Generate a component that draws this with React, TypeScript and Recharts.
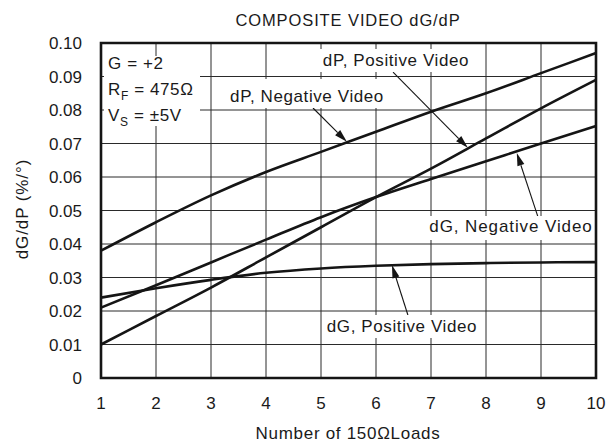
import React from 'react';
import { LineChart, Line, XAxis, YAxis, CartesianGrid, ReferenceArea, ReferenceLine } from 'recharts';

const font = '"Liberation Sans", Arial, sans-serif';
const ink = '#151515';

// Number of 150 ohm loads
const loads = [1, 2, 3, 4, 5, 6, 7, 8, 9, 10];
const yTicks = [0, 0.01, 0.02, 0.03, 0.04, 0.05, 0.06, 0.07, 0.08, 0.09, 0.1];

// dG/dP values (%/deg)
const dpNegative = [0.038, 0.0465, 0.0545, 0.0615, 0.0675, 0.0735, 0.0795, 0.085, 0.091, 0.097];
const dpPositive = [0.01, 0.0185, 0.027, 0.036, 0.045, 0.054, 0.0625, 0.0715, 0.0805, 0.089];
const dgNegative = [0.021, 0.0277, 0.0345, 0.0413, 0.048, 0.054, 0.0594, 0.0647, 0.07, 0.0752];
const dgPositive = [0.024, 0.0268, 0.0293, 0.0314, 0.0327, 0.0335, 0.034, 0.0343, 0.0345, 0.0346];

// arrow [start, tip] in data coords
const arrows = [
  [{ x: 4.855, y: 0.0806 }, { x: 5.47, y: 0.0705 }],
  [{ x: 6.31, y: 0.0913 }, { x: 7.67, y: 0.0687 }],
  [{ x: 8.945, y: 0.0481 }, { x: 8.56, y: 0.0672 }],
  [{ x: 6.58, y: 0.0188 }, { x: 6.29, y: 0.0337 }],
];

const data = loads.map((n, i) => ({
  n,
  dpNeg: dpNegative[i],
  dpPos: dpPositive[i],
  dgNeg: dgNegative[i],
  dgPos: dgPositive[i],
}));

const Arrow = (props: any) => {
  const { x1, y1, x2, y2 } = props;
  if ([x1, y1, x2, y2].some((v) => v == null || isNaN(v))) return null;
  const dx = x2 - x1;
  const dy = y2 - y1;
  const len = Math.sqrt(dx * dx + dy * dy) || 1;
  const ux = dx / len;
  const uy = dy / len;
  const hl = 13;
  const hw = 3.6;
  const bx = x2 - ux * hl;
  const by = y2 - uy * hl;
  const pts = `${x2},${y2} ${bx - uy * hw},${by + ux * hw} ${bx + uy * hw},${by - ux * hw}`;
  return (
    <g>
      <line x1={x1} y1={y1} x2={bx} y2={by} stroke={ink} strokeWidth={1.1} />
      <polygon points={pts} fill={ink} />
    </g>
  );
};

const textStyle = { fontFamily: font, fontSize: 17, fill: '#1a1a1a', letterSpacing: 0.6 };

const App = () => {
  return (
    <div style={{ position: 'relative', width: 600, height: 438, background: '#fff' }}>
      <LineChart
        width={600}
        height={431}
        data={data}
        margin={{ top: 35, right: 12, bottom: 31, left: 43 }}
      >
        <CartesianGrid stroke="#2a2a2a" strokeWidth={1} horizontalValues={yTicks} verticalValues={loads} />
        <XAxis
          dataKey="n"
          type="number"
          domain={[1, 10]}
          ticks={loads}
          axisLine={false}
          tickLine={false}
          tickMargin={13}
          height={30}
          tick={{ fill: '#1a1a1a', fontSize: 17, fontFamily: font }}
        />
        <YAxis
          type="number"
          domain={[0, 0.1]}
          ticks={yTicks}
          axisLine={false}
          tickLine={false}
          tickMargin={13}
          width={50}
          tickFormatter={(v: number) => (v === 0 ? '0' : v.toFixed(2))}
          tick={{ fill: '#1a1a1a', fontSize: 17, fontFamily: font }}
        />
        <ReferenceArea x1={1} x2={10} y1={0} y2={0.1} fill="none" stroke={ink} strokeWidth={2.6} fillOpacity={0} />
        <Line type="monotone" dataKey="dpNeg" stroke={ink} strokeWidth={2.6} dot={false} isAnimationActive={false} />
        <Line type="monotone" dataKey="dpPos" stroke={ink} strokeWidth={2.6} dot={false} isAnimationActive={false} />
        <Line type="monotone" dataKey="dgNeg" stroke={ink} strokeWidth={2.6} dot={false} isAnimationActive={false} />
        <Line type="monotone" dataKey="dgPos" stroke={ink} strokeWidth={2.6} dot={false} isAnimationActive={false} />
        {arrows.map((seg, i) => (
          <ReferenceLine key={i} segment={seg} shape={<Arrow />} ifOverflow="visible" />
        ))}
      </LineChart>
      <svg
        width={600}
        height={438}
        style={{ position: 'absolute', left: 0, top: 0, pointerEvents: 'none' }}
      >
        <text x={340} y={18} textAnchor="middle" style={{ ...textStyle, fontSize: 16.5, letterSpacing: 0.9 }}>
          COMPOSITE VIDEO dG/dP
        </text>
        <text x={340} y={431} textAnchor="middle" style={{ ...textStyle, letterSpacing: 0.7 }}>
          Number of 150ΩLoads
        </text>
        <text
          x={20}
          y={201}
          textAnchor="middle"
          transform="rotate(-90 20 201)"
          style={{ ...textStyle, letterSpacing: 0.9 }}
        >
          dG/dP (%/°)
        </text>

        <rect x={96} y={48} width={96} height={70} fill="#fff" />
        <text x={100} y={61} style={textStyle}>G = +2</text>
        <text x={100} y={87} style={textStyle}>
          R<tspan fontSize={12} dy={5}>F</tspan>
          <tspan dy={-5}> = 475Ω</tspan>
        </text>
        <text x={100} y={113} style={textStyle}>
          V<tspan fontSize={12} dy={5}>S</tspan>
          <tspan dy={-5}> = ±5V</tspan>
        </text>

        <rect x={212} y={71} width={172} height={29} fill="#fff" />
        <text x={299} y={94} textAnchor="middle" style={textStyle}>dP, Negative Video</text>

        <rect x={302} y={41} width={172} height={23} fill="#fff" />
        <text x={388} y={58} textAnchor="middle" style={textStyle}>dP, Positive Video</text>

        <rect x={420} y={208} width={164} height={24} fill="#fff" />
        <text x={503} y={224} textAnchor="middle" style={{ ...textStyle, letterSpacing: 0.9 }}>dG, Negative Video</text>

        <rect x={315} y={307} width={159} height={23} fill="#fff" />
        <text x={394} y={324} textAnchor="middle" style={textStyle}>dG, Positive Video</text>
      </svg>
    </div>
  );
};

export default App;
